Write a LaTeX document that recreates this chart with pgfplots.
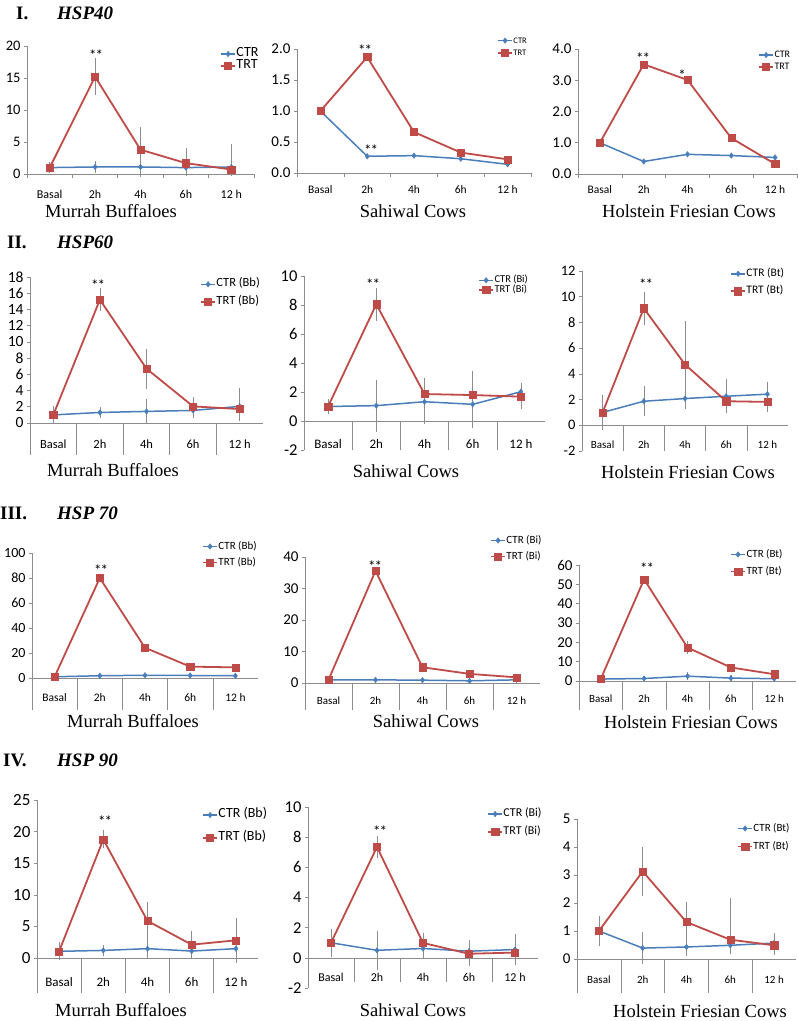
\documentclass[border=0pt]{standalone}
\usepackage{fontspec}
\setmainfont{Liberation Serif}
\newfontfamily\calib{Carlito}
\usepackage{pgfplots}
\pgfplotsset{compat=1.18}

\definecolor{ctrblue}{HTML}{4A7EBB}
\definecolor{trtred}{HTML}{BE4B48}
\definecolor{axgray}{HTML}{8C8C8C}

\newcommand\fs[1]{\calib\fontsize{#1}{#1}\selectfont}
% category separators below the x axis
\newcommand\seps[1]{\pgfplotsinvokeforeach{-0.5,0.5,1.5,2.5,3.5}{\draw[axgray, line width=0.6pt] (axis cs:##1,0) -- ++(0pt,-#1pt);}}
\newcommand\shortticks{\pgfplotsinvokeforeach{-0.5,0.5,1.5,2.5,3.5,4.5}{\draw[axgray, line width=0.6pt] (axis cs:##1,0) -- ++(0pt,-4pt);}}

\pgfplotsset{
  hsp/.style={
    scale only axis, anchor=south west,
    xmin=-0.5, xmax=4.5,
    axis y line*=left, axis x line*=middle,
    hide obscured x ticks=false, hide obscured y ticks=false,
    axis line style={axgray, line width=0.6pt},
    xtick={0,...,4}, xticklabels={Basal,2h,4h,6h,12 h},
    x tick style={draw=none},
    y tick style={axgray, line width=0.6pt},
    tick align=outside, major tick length=3pt,
    /pgf/number format/assume math mode=true,
    xticklabel style={anchor=center, text height=0.7em, text depth=0pt},
    clip=false,
    legend cell align=left,
    legend style={draw=none, fill=none, anchor=west, inner sep=0pt,
      nodes={inner sep=0.5pt, text height=0.75em, text depth=0.25em}},
    legend image code/.code={\draw[mark repeat=2, mark phase=2, ##1] plot coordinates {(0pt,0pt) (7pt,0pt) (14pt,0pt)};},
  },
  onedec/.style={yticklabel style={/pgf/number format/fixed, /pgf/number format/fixed zerofill, /pgf/number format/precision=1}},
  ctr/.style={ctrblue, line width=1.5pt, mark=diamond*, mark size=2.8pt,
    mark options={solid, fill=ctrblue, draw=ctrblue, line width=0.4pt}},
  trt/.style={trtred, line width=1.8pt, mark=square*, mark size=3.6pt,
    mark options={solid, fill=trtred, draw=trtred, line width=0.4pt}},
  eb/.style={/pgfplots/error bars/y dir=both, /pgfplots/error bars/y explicit,
    /pgfplots/error bars/error bar style={axgray, line width=0.5pt},
    /pgfplots/error bars/error mark options={axgray, line width=0.5pt, mark size=2pt}},
}

\begin{document}
\begin{tikzpicture}
\useasboundingbox (0pt,0pt) rectangle (798pt,-1021pt);

% ---------------- I. HSP40 ----------------
\begin{axis}[hsp, at={(27pt,-174pt)}, width=227pt, height=128pt,
  ymin=0, ymax=20, ytick={0,5,...,20},
  yticklabel style={font=\fs{14.5}}, xticklabel style={font=\fs{12}, yshift=-18pt},
  legend style={at={(1,1)}, xshift=-34pt, yshift=-14pt, font=\fs{14}, row sep=1pt}]
\addplot[ctr, eb] coordinates {(0,1.0) +- (0,0.4) (1,1.1) +- (0,0.6) (2,1.1) +- (0,1.2) (3,1.0) +- (0,0.9) (4,1.1) += (0,2.5) -= (0,1.1)};
\addplot[trt, eb] coordinates {(0,1.0) +- (0,0.5) (1,15.2) +- (0,2.6) (2,3.8) +- (0,3.2) (3,1.7) += (0,2.0) -= (0,1.7) (4,0.7) += (0,3.6) -= (0,0.7)};
\legend{CTR,TRT}
\shortticks
\end{axis}

\begin{axis}[hsp, onedec, at={(297pt,-173pt)}, width=234pt, height=124pt,
  ymin=0, ymax=2, ytick={0,0.5,1,1.5,2},
  yticklabel style={font=\fs{15}}, xticklabel style={font=\fs{11.5}, yshift=-14pt},
  legend style={at={(1,1)}, xshift=-34pt, yshift=2.3pt, font=\fs{8.5}, row sep=1.2pt}]
\addplot[ctr] coordinates {(0,1.0) (1,0.27) (2,0.28) (3,0.23) (4,0.14)};
\addplot[trt] coordinates {(0,1.0) (1,1.87) (2,0.66) (3,0.33) (4,0.22)};
\legend{CTR,TRT}
\shortticks
\end{axis}

\begin{axis}[hsp, onedec, at={(578pt,-174pt)}, width=219pt, height=125pt,
  ymin=0, ymax=4, ytick={0,1,2,3,4},
  yticklabel style={font=\fs{15}}, xticklabel style={font=\fs{11.5}, yshift=-13pt},
  legend style={at={(1,1)}, xshift=-39pt, yshift=-12pt, font=\fs{10}, row sep=1pt}]
\addplot[ctr] coordinates {(0,1.0) (1,0.40) (2,0.63) (3,0.59) (4,0.53)};
\addplot[trt] coordinates {(0,1.0) (1,3.51) (2,3.01) (3,1.15) (4,0.32)};
\legend{CTR,TRT}
\shortticks
\end{axis}

% ---------------- II. HSP60 ----------------
\begin{axis}[hsp, at={(30pt,-423pt)}, width=233pt, height=146pt,
  ymin=0, ymax=18, ytick={0,2,...,18},
  yticklabel style={font=\fs{15.5}}, xticklabel style={font=\fs{12.5}, yshift=-19pt},
  legend style={at={(1,1)}, xshift=-63pt, yshift=-16pt, font=\fs{12.5}, row sep=6.5pt}]
\addplot[ctr, eb] coordinates {(0,1.0) +- (0,0.9) (1,1.3) +- (0,0.4) (2,1.43) +- (0,1.3) (3,1.55) +- (0,0.7) (4,2.05) +- (0,1.5)};
\addplot[trt, eb] coordinates {(0,1.0) +- (0,0.9) (1,15.2) +- (0,1.15) (2,6.7) +- (0,2.2) (3,2.05) +- (0,0.95) (4,1.72) += (0,2.3) -= (0,1.2)};
\legend{CTR (Bb),TRT (Bb)}
\seps{32}
\end{axis}

\begin{axis}[hsp, at={(304pt,-450pt)}, width=241pt, height=174pt,
  ymin=-2, ymax=10, ytick={-2,0,...,10},
  yticklabel style={font=\fs{16.5}}, xticklabel style={font=\fs{13}, yshift=-21pt},
  legend style={at={(1,1)}, xshift=-67pt, yshift=-9pt, font=\fs{10.5}, row sep=-1.5pt}]
\addplot[ctr, eb] coordinates {(0,1.0) +- (0,0.35) (1,1.06) +- (0,1.65) (2,1.33) +- (0,1.4) (3,1.15) +- (0,1.5) (4,2.02) +- (0,0.46)};
\addplot[trt, eb] coordinates {(0,1.0) +- (0,0.35) (1,8.05) +- (0,1.0) (2,1.86) +- (0,0.95) (3,1.79) +- (0,1.5) (4,1.68) +- (0,0.7)};
\legend{CTR (Bi),TRT (Bi)}
\seps{29}
\end{axis}

\begin{axis}[hsp, at={(582pt,-451pt)}, width=206pt, height=180pt,
  ymin=-2, ymax=12, ytick={-2,0,...,12},
  yticklabel style={font=\fs{14.5}}, xticklabel style={font=\fs{11}, yshift=-17pt},
  legend style={at={(1,1)}, xshift=-58pt, yshift=-11.5pt, font=\fs{11.5}, row sep=6.5pt}]
\addplot[ctr, eb] coordinates {(0,1.0) +- (0,1.2) (1,1.87) +- (0,1.0) (2,2.08) +- (0,0.65) (3,2.26) +- (0,1.17) (4,2.42) +- (0,0.83)};
\addplot[trt, eb] coordinates {(0,1.0) +- (0,1.2) (1,9.1) +- (0,1.15) (2,4.73) +- (0,3.25) (3,1.87) +- (0,0.65) (4,1.82) +- (0,0.65)};
\legend{CTR (Bt),TRT (Bt)}
\seps{26}
\end{axis}

% ---------------- III. HSP 70 ----------------
\begin{axis}[hsp, at={(32pt,-678pt)}, width=226pt, height=125pt,
  ymin=0, ymax=100, ytick={0,20,...,100},
  yticklabel style={font=\fs{14}}, xticklabel style={font=\fs{11.5}, yshift=-17pt},
  legend style={at={(1,1)}, xshift=-56pt, yshift=-1.5pt, font=\fs{11}, row sep=5pt}]
\addplot[ctr] coordinates {(0,1.0) (1,1.8) (2,2.2) (3,2.0) (4,1.8)};
\addplot[trt] coordinates {(0,1.0) (1,80.0) (2,24.2) (3,9.1) (4,8.5)};
\legend{CTR (Bb),TRT (Bb)}
\seps{32}
\end{axis}

\begin{axis}[hsp, at={(305pt,-683pt)}, width=235pt, height=126pt,
  ymin=0, ymax=40, ytick={0,10,...,40},
  yticklabel style={font=\fs{15}}, xticklabel style={font=\fs{11}, yshift=-15pt},
  legend style={at={(1,1)}, xshift=-50pt, yshift=8.5pt, font=\fs{11}, row sep=5pt}]
\addplot[ctr] coordinates {(0,1.0) (1,1.0) (2,0.9) (3,0.7) (4,1.0)};
\addplot[trt] coordinates {(0,1.0) (1,35.6) (2,5.0) (3,2.9) (4,1.8)};
\legend{CTR (Bi),TRT (Bi)}
\seps{27}
\end{axis}

\begin{axis}[hsp, at={(579pt,-681pt)}, width=217pt, height=116pt,
  ymin=0, ymax=60, ytick={0,10,...,60},
  yticklabel style={font=\fs{15}}, xticklabel style={font=\fs{11}, yshift=-15pt},
  legend style={at={(1,1)}, xshift=-66pt, yshift=2pt, font=\fs{11}, row sep=6pt}]
\addplot[ctr, eb] coordinates {(0,1.0) +- (0,0) (1,1.3) +- (0,0.3) (2,2.5) +- (0,1.2) (3,1.5) +- (0,0.4) (4,1.2) +- (0,0.3)};
\addplot[trt, eb] coordinates {(0,1.0) +- (0,0) (1,52.6) +- (0,0) (2,17.3) +- (0,2.4) (3,7.0) +- (0,0.8) (4,3.5) +- (0,0.6)};
\legend{CTR (Bt),TRT (Bt)}
\seps{29}
\end{axis}

% ---------------- IV. HSP 90 ----------------
\begin{axis}[hsp, at={(37pt,-958pt)}, width=221pt, height=158pt,
  ymin=0, ymax=25, ytick={0,5,...,25},
  yticklabel style={font=\fs{17}}, xticklabel style={font=\fs{13}, yshift=-22pt},
  legend style={at={(1,1)}, xshift=-56pt, yshift=-26.5pt, font=\fs{14}, row sep=12pt}]
\addplot[ctr, eb] coordinates {(0,1.06) +- (0,1.0) (1,1.2) +- (0,0.5) (2,1.48) +- (0,1.1) (3,1.1) +- (0,0.8) (4,1.48) +- (0,0.3)};
\addplot[trt, eb] coordinates {(0,1.06) +- (0,1.1) (1,18.76) +- (0,1.1) (2,5.87) +- (0,2.75) (3,2.11) +- (0,1.85) (4,2.8) +- (0,3.2)};
\legend{CTR (Bb),TRT (Bb)}
\seps{35}
\end{axis}

\begin{axis}[hsp, at={(308pt,-988pt)}, width=230pt, height=181pt,
  ymin=-2, ymax=10, ytick={-2,0,...,10},
  yticklabel style={font=\fs{16.5}}, xticklabel style={font=\fs{12}, yshift=-17pt},
  legend style={at={(1,1)}, xshift=-51pt, yshift=-16pt, font=\fs{12}, row sep=7pt}]
\addplot[ctr, eb] coordinates {(0,1.0) +- (0,0.8) (1,0.5) +- (0,1.15) (2,0.62) +- (0,0.55) (3,0.44) +- (0,0.6) (4,0.55) +- (0,0.88)};
\addplot[trt, eb] coordinates {(0,1.0) +- (0,0.8) (1,7.35) +- (0,0.6) (2,0.99) +- (0,0.55) (3,0.27) +- (0,0.65) (4,0.35) +- (0,0.72)};
\legend{CTR (Bi),TRT (Bi)}
\seps{24}
\end{axis}

\begin{axis}[hsp, at={(577pt,-959pt)}, width=219pt, height=140pt,
  ymin=0, ymax=5, ytick={0,1,...,5},
  yticklabel style={font=\fs{15}}, xticklabel style={font=\fs{11}, yshift=-18pt},
  legend style={at={(1,1)}, xshift=-59pt, yshift=-18.5pt, font=\fs{11}, row sep=7pt}]
\addplot[ctr, eb] coordinates {(0,1.0) +- (0,0.45) (1,0.39) +- (0,0.5) (2,0.43) +- (0,0.25) (3,0.49) +- (0,0.25) (4,0.57) +- (0,0.27)};
\addplot[trt, eb] coordinates {(0,1.0) +- (0,0.45) (1,3.13) +- (0,0.8) (2,1.32) +- (0,0.65) (3,0.69) += (0,1.43) -= (0,0.44) (4,0.49) +- (0,0.28)};
\legend{CTR (Bt),TRT (Bt)}
\seps{34}
\end{axis}

% ---------------- headings, subtitles, significance marks ----------------
\tikzset{hd/.style={anchor=west, inner sep=0pt, font=\bfseries\fontsize{19}{20}\selectfont},
         hi/.style={anchor=west, inner sep=0pt, font=\bfseries\itshape\fontsize{19}{20}\selectfont},
         sub/.style={inner sep=0pt, font=\fontsize{18.5}{20}\selectfont},
         st/.style={inner sep=0pt, font=\fs{15}}}
\newcommand\dst{*\kern-1pt*}
\node[hd] at (16pt,-13pt) {I.};   \node[hi] at (57pt,-13pt) {HSP40};
\node[hd] at (7pt,-242pt) {II.};  \node[hi] at (57pt,-242pt) {HSP60};
\node[hd] at (0pt,-513pt) {III.}; \node[hi] at (57pt,-513pt) {HSP 70};
\node[hd] at (3pt,-760pt) {IV.};  \node[hi] at (57pt,-760pt) {HSP 90};

\node[sub] at (111pt,-211pt) {Murrah Buffaloes};
\node[sub] at (413pt,-211pt) {Sahiwal Cows};
\node[sub] at (689pt,-211pt) {Holstein Friesian Cows};
\node[sub] at (113pt,-470pt) {Murrah Buffaloes};
\node[sub] at (406pt,-471pt) {Sahiwal Cows};
\node[sub] at (688pt,-472pt) {Holstein Friesian Cows};
\node[sub] at (133pt,-721pt) {Murrah Buffaloes};
\node[sub] at (426pt,-721pt) {Sahiwal Cows};
\node[sub] at (691pt,-722pt) {Holstein Friesian Cows};
\node[sub] at (121pt,-1010pt) {Murrah Buffaloes};
\node[sub] at (413pt,-1010pt) {Sahiwal Cows};
\node[sub] at (700pt,-1011pt) {Holstein Friesian Cows};

\node[st] at (96pt,-55pt) {\dst};
\node[st] at (365pt,-50pt) {\dst};
\node[st] at (371pt,-150pt) {\dst};
\node[st] at (643pt,-58pt) {\dst};
\node[st] at (682pt,-75pt) {*};
\node[st] at (98pt,-285pt) {\dst};
\node[st] at (373pt,-284pt) {\dst};
\node[st] at (646pt,-284pt) {\dst};
\node[st] at (101pt,-570pt) {\dst};
\node[st] at (375pt,-566pt) {\dst};
\node[st] at (647pt,-568pt) {\dst};
\node[st] at (105pt,-821pt) {\dst};
\node[st] at (380pt,-831pt) {\dst};
\end{tikzpicture}
\end{document}
